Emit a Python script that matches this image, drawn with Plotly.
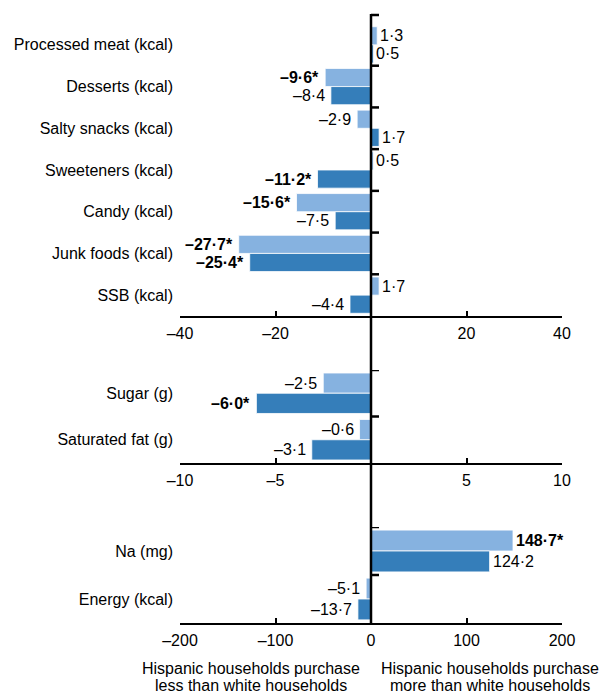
import plotly.graph_objects as go

# ---------------- data ----------------
cats1 = ["Processed meat (kcal)", "Desserts (kcal)", "Salty snacks (kcal)", "Sweeteners (kcal)",
         "Candy (kcal)", "Junk foods (kcal)", "SSB (kcal)"]
light1 = [1.3, -9.6, -2.9, 0.5, -15.6, -27.7, 1.7]
light1_sig = [False, True, False, False, True, True, False]
dark1 = [0.5, -8.4, 1.7, -11.2, -7.5, -25.4, -4.4]
dark1_sig = [False, False, False, True, False, True, False]

cats2 = ["Sugar (g)", "Saturated fat (g)"]
light2 = [-2.5, -0.6]
light2_sig = [False, False]
dark2 = [-6.0, -3.1]
dark2_sig = [True, False]

cats3 = ["Na (mg)", "Energy (kcal)"]
light3 = [148.7, -5.1]
light3_sig = [True, False]
dark3 = [124.2, -13.7]
dark3_sig = [False, False]

ticks1 = [-40, -20, 0, 20, 40]
ticklab1 = ["–40", "–20", "", "20", "40"]
ticks2 = [-10, -5, 0, 5, 10]
ticklab2 = ["–10", "–5", "", "5", "10"]
ticks3 = [-200, -100, 0, 100, 200]
ticklab3 = ["–200", "–100", "0", "100", "200"]

note_left = ["Hispanic households purchase", "less than white households"]
note_right = ["Hispanic households purchase", "more than white households"]

# ---------------- style ----------------
W, H = 601, 693
LIGHT = "#86B2E0"
DARK = "#357EBA"
FONT = "Liberation Sans, Arial, Helvetica, sans-serif"
FS = 16
BARGAP = 0.13
XL, XR = 180, 562


def py(p):
    return 1 - p / H


def fmt(v, sig):
    s = f"{abs(v):.1f}".replace(".", "·")
    if v < 0:
        s = "–" + s
    if sig:
        s = "<b>" + s + "*</b>"
    return s


panels = [
    (cats1, light1, light1_sig, dark1, dark1_sig, ticks1, ticklab1, [-40, 40], (24, 316)),
    (cats2, light2, light2_sig, dark2, dark2_sig, ticks2, ticklab2, [-10, 10], (370, 463)),
    (cats3, light3, light3_sig, dark3, dark3_sig, ticks3, ticklab3, [-200, 200], (527, 623)),
]

fig = go.Figure()
annotations = []
shapes = []
half = (1 - BARGAP) / 4

for k, (cats, lt, lsig, dk, dsig, tv, tt, xr, (top, bot)) in enumerate(panels):
    idx = list(range(len(cats)))
    sfx = "" if k == 0 else str(k + 1)
    xa, ya = "x" + sfx, "y" + sfx
    for vals, col in ((lt, LIGHT), (dk, DARK)):
        fig.add_trace(go.Bar(
            x=vals, y=idx, orientation="h", marker=dict(color=col, line=dict(color="white", width=0.8)),
            xaxis=xa, yaxis=ya, showlegend=False, hoverinfo="skip"))
    for vals, sig, off in ((lt, lsig, -half), (dk, dsig, half)):
        for i, (v, s) in enumerate(zip(vals, sig)):
            annotations.append(dict(
                x=v, y=i + off, xref=xa, yref=ya, text=fmt(v, s), showarrow=False,
                xanchor="left" if v >= 0 else "right", yanchor="middle",
                xshift=1 if v >= 0 else -4, font=dict(size=FS, color="black", family=FONT)))
    # boundary ticks on the zero line
    start = 1 if k == 0 else 0
    for b in range(start, len(cats)):
        shapes.append(dict(type="line", xref=xa, yref=ya, xsizemode="pixel", xanchor=0,
                           x0=0, x1=8, y0=b - 0.5, y1=b - 0.5,
                           line=dict(color="black", width=2.5)))
    axx = dict(domain=[XL / W, XR / W], range=xr, tickvals=tv, ticktext=tt,
               showline=True, linecolor="black", linewidth=2, ticks="inside", ticklen=5,
               tickwidth=2, tickcolor="black", showgrid=False, zeroline=False,
               anchor=ya, automargin=False, ticklabelstandoff=2,
               tickfont=dict(size=FS, color="black", family=FONT), fixedrange=True)
    axy = dict(domain=[py(bot), py(top)], range=[len(cats) - 0.5, -0.5], tickvals=idx,
               ticktext=cats, showline=False, ticks="", showgrid=False, zeroline=False,
               anchor=xa, automargin=False, ticklabelstandoff=6,
               tickfont=dict(size=FS, color="black", family=FONT), fixedrange=True)
    fig.layout["xaxis" + sfx] = axx
    fig.layout["yaxis" + sfx] = axy

# vertical zero line through all panels, with top cap
shapes.append(dict(type="line", xref="x", yref="paper", x0=0, x1=0, y0=py(623), y1=py(14),
                   line=dict(color="black", width=2.5), layer="above"))
shapes.append(dict(type="line", xref="x", yref="paper", xsizemode="pixel", xanchor=0,
                   x0=0, x1=8, y0=py(15), y1=py(15), line=dict(color="black", width=2.5)))

# bottom explanatory notes, one annotation per line
for lines, xp, anchor in ((note_left, 251, "center"), (note_right, 490, "center")):
    for j, (line, ypix) in enumerate(zip(lines, (668, 685))):
        annotations.append(dict(x=xp / W, y=py(ypix), xref="paper", yref="paper", text=line,
                                showarrow=False, xanchor=anchor, yanchor="middle",
                                font=dict(size=FS, color="black", family=FONT)))

fig.update_layout(
    width=W, height=H, autosize=False, margin=dict(l=0, r=0, t=0, b=0, pad=0),
    barmode="group", bargap=BARGAP, bargroupgap=0,
    plot_bgcolor="white", paper_bgcolor="white",
    font=dict(family=FONT, size=FS, color="black"),
    annotations=annotations, shapes=shapes,
)

fig.write_html("out.html", config={"displayModeBar": False},
               post_script="document.body.style.margin='0';document.body.style.overflow='hidden';")
